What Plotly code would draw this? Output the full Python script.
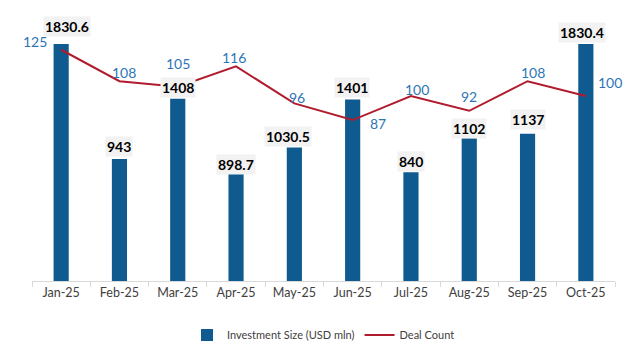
import plotly.graph_objects as go

months = ["Jan-25", "Feb-25", "Mar-25", "Apr-25", "May-25", "Jun-25", "Jul-25", "Aug-25", "Sep-25", "Oct-25"]
investment = [1830.6, 943, 1408, 898.7, 1030.5, 1401, 840, 1102, 1137, 1830.4]
deals = [125, 108, 105, 116, 96, 87, 100, 92, 108, 100]
inv_labels = ["1830.6", "943", "1408", "898.7", "1030.5", "1401", "840", "1102", "1137", "1830.4"]

# label offsets (pixels) – styling
bar_lbl_dx = [6, 0, 0, 0, -6, -1, 0, 0, 0, -4]
bar_lbl_dy = [17, 12, 11, 0, 11, 12, 11, 10, 14, 11]
deal_lbl_dx = [-26, 5, 0, -2, 3, 25, 6, 0, 5, 24]
deal_lbl_dy = [8, 9, 23, 9, 6, -3, 7, 14, 9, 14]

BAR = "#0F5A8E"
LINE = "#B01C2E"
BLUE = "#2E75B6"

fig = go.Figure()
fig.add_trace(go.Bar(x=months, y=investment, name="Investment Size (USD mln)",
                     marker=dict(color=BAR, line=dict(width=0)), yaxis="y"))
fig.add_trace(go.Scatter(x=months, y=deals, name="Deal Count", mode="lines",
                         line=dict(color=LINE, width=2), yaxis="y2"))

ann = []
for m, v, t, dx, dy in zip(months, investment, inv_labels, bar_lbl_dx, bar_lbl_dy):
    ann.append(dict(x=m, y=v, xref="x", yref="y", text=t, showarrow=False,
                    xshift=dx, yshift=dy, yanchor="middle",
                    font=dict(family="Lato", size=14, color="#000000", weight="bold"),
                    bgcolor="#F2F2F2", borderpad=1))
for m, v, dx, dy in zip(months, deals, deal_lbl_dx, deal_lbl_dy):
    ann.append(dict(x=m, y=v, xref="x", yref="y2", text=str(v), showarrow=False,
                    xshift=dx, yshift=dy, yanchor="middle",
                    font=dict(family="Lato", size=14, color=BLUE)))

fig.update_layout(
    width=640, height=350,
    margin=dict(l=32, r=25, t=22, b=69, autoexpand=False),
    paper_bgcolor="white", plot_bgcolor="white",
    bargap=0.74,
    font=dict(family="Lato", color="#404040"),
    xaxis=dict(type="category", range=[-0.5, len(months) - 0.5], autorange=False,
               showline=True, linecolor="#D9D9D9", linewidth=1,
               ticks="outside", tickson="boundaries", ticklen=5, tickcolor="#D9D9D9",
               tickfont=dict(size=12.5, color="#404040"), showgrid=False, automargin=False),
    yaxis=dict(range=[0, 2000], autorange=False, visible=False, showgrid=False),
    yaxis2=dict(range=[0, 140], autorange=False, overlaying="y", side="right",
                visible=False, showgrid=False),
    legend=dict(orientation="h", x=0.5, xanchor="center", yref="container", y=1 - 335 / 350,
                yanchor="middle", font=dict(size=11, color="#404040"), itemwidth=30,
                tracegroupgap=0),
    annotations=ann,
    showlegend=True,
)

fig.write_html("out.html")
